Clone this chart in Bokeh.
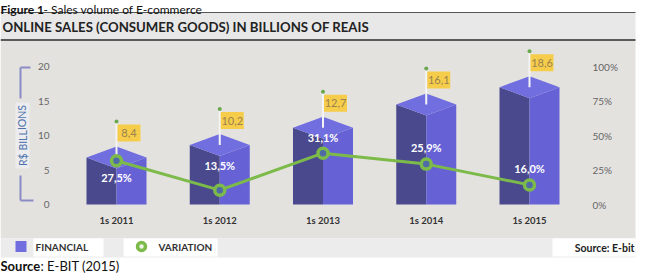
from bokeh.plotting import figure
from bokeh.models import Range1d, LinearAxis, FixedTicker
from bokeh.core.properties import value
from bokeh.embed import file_html
from bokeh.resources import INLINE

# ---- data -------------------------------------------------------------
periods = ["1s 2011", "1s 2012", "1s 2013", "1s 2014", "1s 2015"]
sales_bn = [8.4, 10.2, 12.7, 16.1, 18.6]          # R$ billions
variation_pct = [27.5, 13.5, 31.1, 25.9, 16.0]    # % growth
left_ticks = [0, 5, 10, 15, 20]
right_ticks = [0, 25, 50, 75, 100]

# ---- page geometry (pixels) ------------------------------------------
W, H = 645, 274
X0, DX = 116.0, 103.25     # first column centre, column pitch
Y0, DY = 204.0, 6.9        # zero line, pixels per billion


def px_x(px):
    return (px - X0) / DX


def px_y(py):
    return (Y0 - py) / DY


FONT = value("Lato")
GREEN = "#7cba4a"
DARK_FACE = "#4a498e"
SIDE_FACE = "#6662d6"
TOP_FACE = "#716ee0"

p = figure(width=W, height=H, output_backend="svg", toolbar_location=None,
           x_range=Range1d(px_x(0), px_x(W)), y_range=Range1d(px_y(H), px_y(0)),
           x_axis_type=None, y_axis_type=None, min_border=0,
           outline_line_color=None, background_fill_color="white",
           border_fill_color="white")

# percentage scale shown on the right, and the scale used by the variation line
p.extra_y_ranges = {
    "pct": Range1d((Y0 - H) / 1.38, Y0 / 1.38),
    "var": Range1d((218 - H) / 2.1, 218 / 2.1),
}

# ---- panels -----------------------------------------------------------
panel_r = px_x(635)
p.quad(left=px_x(0), right=panel_r, top=px_y(12), bottom=px_y(39),
       fill_color="#e8e8e8", line_color=None)
p.segment(x0=px_x(0), y0=px_y(12), x1=panel_r, y1=px_y(12), line_color="#555555", line_width=1)
p.quad(left=px_x(0), right=panel_r, top=px_y(40), bottom=px_y(238),
       fill_color="#e4e2df", line_color=None)
p.segment(x0=px_x(0), y0=px_y(39.5), x1=panel_r, y1=px_y(39.5), line_color="#5a5a5a", line_width=2)
p.quad(left=px_x(0), right=panel_r, top=px_y(238), bottom=px_y(257),
       fill_color="#ececec", line_color=None)
p.quad(left=[px_x(33), px_x(123), px_x(552)], right=[px_x(103), px_x(217), panel_r],
       top=px_y(238), bottom=px_y(256), fill_color="white", line_color=None)

# heading lines
p.text(x=[px_x(0)], y=[px_y(9)], text=["Figure 1"], text_font=FONT, text_font_size="12px",
       text_font_style="bold", text_color="#111111", text_baseline="alphabetic")
p.text(x=[px_x(43)], y=[px_y(9)], text=["- Sales volume of E-commerce"], text_font=FONT,
       text_font_size="12px", text_color="#111111", text_baseline="alphabetic")
p.text(x=[px_x(2)], y=[px_y(26)], text=["ONLINE SALES (CONSUMER GOODS) IN BILLIONS OF REAIS"],
       text_font=FONT, text_font_size="13.2px", text_font_style="bold", text_color="#222222",
       text_baseline="middle")

# ---- left scale decoration -------------------------------------------
bx = px_x(20)
p.segment(x0=[bx, bx, bx, bx], y0=[px_y(67), px_y(67), px_y(175), px_y(200)],
          x1=[bx, px_x(30), bx, px_x(33)], y1=[px_y(98), px_y(67), px_y(200), px_y(200)],
          line_color="#8b8bc6", line_width=2)
p.quad(left=px_x(15), right=px_x(29), top=px_y(102), bottom=px_y(168),
       fill_color="#ececee", line_color=None)
p.text(x=[px_x(22)], y=[px_y(135)], text=["R$ BILLIONS"], angle=1.5708, text_font=FONT,
       text_font_size="10.5px", text_color="#4f73ad", text_align="center", text_baseline="middle")

# ---- columns ----------------------------------------------------------
hw = 30 / DX          # half column width
rh = 11 / DY          # roof drop
dark_xs, dark_ys, side_xs, side_ys, top_xs, top_ys = [], [], [], [], [], []
for i, v in enumerate(sales_bn):
    dark_xs.append([i - hw, i - hw, i, i])
    dark_ys.append([0, v - rh, v - 2 * rh, 0])
    side_xs.append([i, i, i + hw, i + hw])
    side_ys.append([0, v - 2 * rh, v - rh, 0])
    top_xs.append([i - hw, i, i + hw, i])
    top_ys.append([v - rh, v, v - rh, v - 2 * rh])
p.patches(dark_xs, dark_ys, fill_color=DARK_FACE, line_color=None)
p.patches(side_xs, side_ys, fill_color=SIDE_FACE, line_color=None)
p.patches(top_xs, top_ys, fill_color=TOP_FACE, line_color=None)

# value flags
idx = list(range(len(periods)))
pole = 25 / DY
flag_top = [v + pole for v in sales_bn]
p.segment(x0=idx, y0=[v - rh for v in sales_bn], x1=idx, y1=flag_top,
          line_color="#f4f4f4", line_width=2)
p.scatter(x=idx, y=flag_top, size=4, fill_color="#6aa84f", line_color=None)
p.quad(left=[i + 1 / DX for i in idx], right=[i + 24 / DX for i in idx],
       top=[t - 3 / DY for t in flag_top], bottom=[t - 20 / DY for t in flag_top],
       fill_color="#f6cd4a", line_color=None)
p.text(x=[i + 12.5 / DX for i in idx], y=[t - 11.5 / DY for t in flag_top],
       text=[f"{v:.1f}".replace(".", ",") for v in sales_bn], text_font=FONT,
       text_font_size="11px", text_color="#9a8150", text_align="center",
       text_baseline="middle")

# ---- variation line ---------------------------------------------------
p.line(x=idx, y=variation_pct, y_range_name="var", line_color=GREEN, line_width=3)
p.scatter(x=idx, y=variation_pct, y_range_name="var", size=10, fill_color="#4f6aa6",
          line_color=GREEN, line_width=3.5)
label_shift = [17, -25, -16, -17, -16]
p.text(x=idx, y=variation_pct, y_range_name="var", y_offset=label_shift,
       text=[f"{v:.1f}".replace(".", ",") + "%" for v in variation_pct], text_font=FONT,
       text_font_size="11px", text_font_style="bold", text_color="white",
       text_align="center", text_baseline="middle")

# ---- axes -------------------------------------------------------------
def plain(axis, size, color, style="normal"):
    axis.axis_line_color = None
    axis.major_tick_line_color = None
    axis.minor_tick_line_color = None
    axis.major_tick_out = 0
    axis.major_tick_in = 0
    axis.minor_tick_out = 0
    axis.major_label_text_font = "Lato"
    axis.major_label_text_font_size = size
    axis.major_label_text_color = color
    axis.major_label_text_font_style = style


left_axis = LinearAxis(fixed_location=px_x(49), ticker=FixedTicker(ticks=left_ticks))
plain(left_axis, "10px", "#666666")
left_axis.major_label_standoff = 0
p.add_layout(left_axis, "left")

right_axis = LinearAxis(y_range_name="pct", fixed_location=px_x(590),
                        ticker=FixedTicker(ticks=right_ticks),
                        major_label_overrides={t: f"{t}%" for t in right_ticks})
plain(right_axis, "10px", "#666666")
right_axis.major_label_standoff = 2
p.add_layout(right_axis, "right")

bottom_axis = LinearAxis(fixed_location=0, ticker=FixedTicker(ticks=idx),
                         major_label_overrides={i: s for i, s in enumerate(periods)})
plain(bottom_axis, "9.5px", "#333333", "bold")
bottom_axis.major_label_standoff = 10
p.add_layout(bottom_axis, "below")

# ---- legend row and source -------------------------------------------
p.scatter(x=[px_x(20.5)], y=[px_y(246)], marker="square", size=11,
          fill_color=TOP_FACE, line_color=None)
p.scatter(x=[px_x(141)], y=[px_y(246)], size=8, fill_color="#eef3e8",
          line_color=GREEN, line_width=3.5)
p.text(x=[px_x(35), px_x(158)], y=[px_y(246.5), px_y(246.5)], text=["FINANCIAL", "VARIATION"],
       text_font=FONT, text_font_size="10px", text_font_style="bold", text_color="#333333",
       text_baseline="middle")
p.text(x=[px_x(634)], y=[px_y(247)], text=["Source: E-bit"], text_font=FONT,
       text_font_size="10.5px", text_font_style="bold", text_color="#222222",
       text_align="right", text_baseline="middle")
p.text(x=[px_x(0)], y=[px_y(265.5)], text=["Source"], text_font=FONT, text_font_size="13px",
       text_font_style="bold", text_color="#111111", text_baseline="middle")
p.text(x=[px_x(40)], y=[px_y(265.5)], text=[": E-BIT (2015)"], text_font=FONT,
       text_font_size="13px", text_color="#111111", text_baseline="middle")

open("out.html", "w").write(file_html(p, INLINE))
